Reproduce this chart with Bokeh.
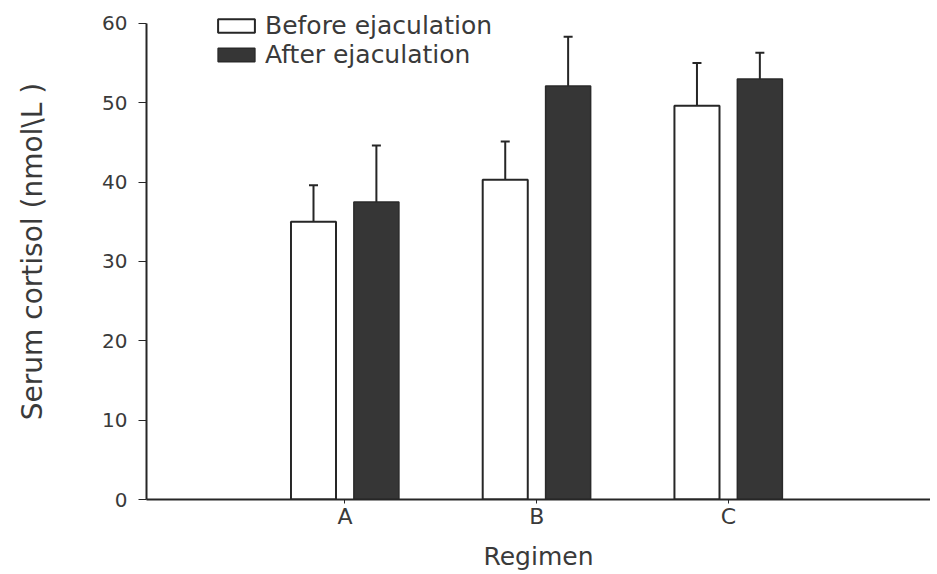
from bokeh.plotting import figure
from bokeh.models import ColumnDataSource, Legend, LegendItem, FixedTicker, Range1d, TeeHead, Whisker
from bokeh.embed import file_html
from bokeh.resources import INLINE

# ---- data ----
regimens = ["A", "B", "C"]
before_mean = [35.0, 40.3, 49.6]
before_err = [4.6, 4.8, 5.4]
after_mean = [37.5, 52.1, 53.0]
after_err = [7.1, 6.2, 3.3]
y_ticks = [0, 10, 20, 30, 40, 50, 60]

series_labels = ["Before ejaculation", "After ejaculation"]
x_label = "Regimen"
y_label = "Serum cortisol (nmol\\L )"

FONT = "DejaVu Sans"
INK = "#262626"
TXT = "#3a3a3a"

pos = [i + 1 for i in range(len(regimens))]
off = 0.164
bw = 0.235

src_b = ColumnDataSource(dict(
    x=[p - off for p in pos], top=before_mean,
    lo=before_mean, hi=[m + e for m, e in zip(before_mean, before_err)]))
src_a = ColumnDataSource(dict(
    x=[p + off for p in pos], top=after_mean,
    lo=after_mean, hi=[m + e for m, e in zip(after_mean, after_err)]))

p = figure(width=930, height=573, output_backend="svg", toolbar_location=None,
           x_range=Range1d(-0.035, 4.054), y_range=Range1d(0, 62.5),
           min_border_left=146, min_border_right=0, min_border_top=3,
           min_border_bottom=73)
p.outline_line_color = None
p.grid.grid_line_color = None
p.background_fill_color = "white"
p.border_fill_color = "white"

r_b = p.vbar(x="x", top="top", width=bw, bottom=0, source=src_b,
             fill_color="white", line_color=INK, line_width=2)
r_a = p.vbar(x="x", top="top", width=bw, bottom=0, source=src_a,
             fill_color="#363636", line_color="#2a2a2a", line_width=1.5)

for s in (src_b, src_a):
    w = Whisker(base="x", lower="lo", upper="hi", source=s,
                line_color=INK, line_width=2,
                lower_head=None,
                upper_head=TeeHead(size=9, line_color=INK, line_width=2))
    p.add_layout(w)

# axes
xa = p.xaxis[0]
xa.ticker = FixedTicker(ticks=pos)
xa.major_label_overrides = {p_: r for p_, r in zip(pos, regimens)}
xa.minor_tick_line_color = None
xa.major_tick_out = 4
xa.major_tick_in = 0
xa.major_label_standoff = 0
xa.axis_line_width = 2
xa.axis_line_color = INK
xa.major_tick_line_color = INK
xa.major_label_text_font = FONT
xa.major_label_text_font_size = "22px"
xa.major_label_text_color = TXT
xa.axis_label = x_label
xa.axis_label_text_font = FONT
xa.axis_label_text_font_size = "25px"
xa.axis_label_text_font_style = "normal"
xa.axis_label_text_color = TXT
xa.axis_label_standoff = 10

ya = p.yaxis[0]
ya.ticker = FixedTicker(ticks=y_ticks)
ya.bounds = (0, 60)
ya.minor_tick_line_color = None
ya.major_tick_out = 8
ya.major_tick_in = 0
ya.major_label_standoff = 11
ya.axis_line_width = 2
ya.axis_line_color = INK
ya.major_tick_line_color = INK
ya.major_label_text_font = FONT
ya.major_label_text_font_size = "20px"
ya.major_label_text_color = TXT
ya.axis_label = y_label
ya.axis_label_text_font = FONT
ya.axis_label_text_font_size = "28px"
ya.axis_label_text_font_style = "normal"
ya.axis_label_text_color = TXT
ya.axis_label_standoff = 50

legend = Legend(items=[LegendItem(label=series_labels[0], renderers=[r_b]),
                       LegendItem(label=series_labels[1], renderers=[r_a])],
                location=(67, 430), orientation="vertical",
                glyph_width=46, glyph_height=17, label_standoff=6,
                padding=0, margin=0, spacing=0,
                border_line_alpha=0, background_fill_alpha=0,
                label_text_font=FONT, label_text_font_size="25px",
                label_text_color=TXT)
p.add_layout(legend)

open("out.html", "w").write(file_html(p, INLINE))
